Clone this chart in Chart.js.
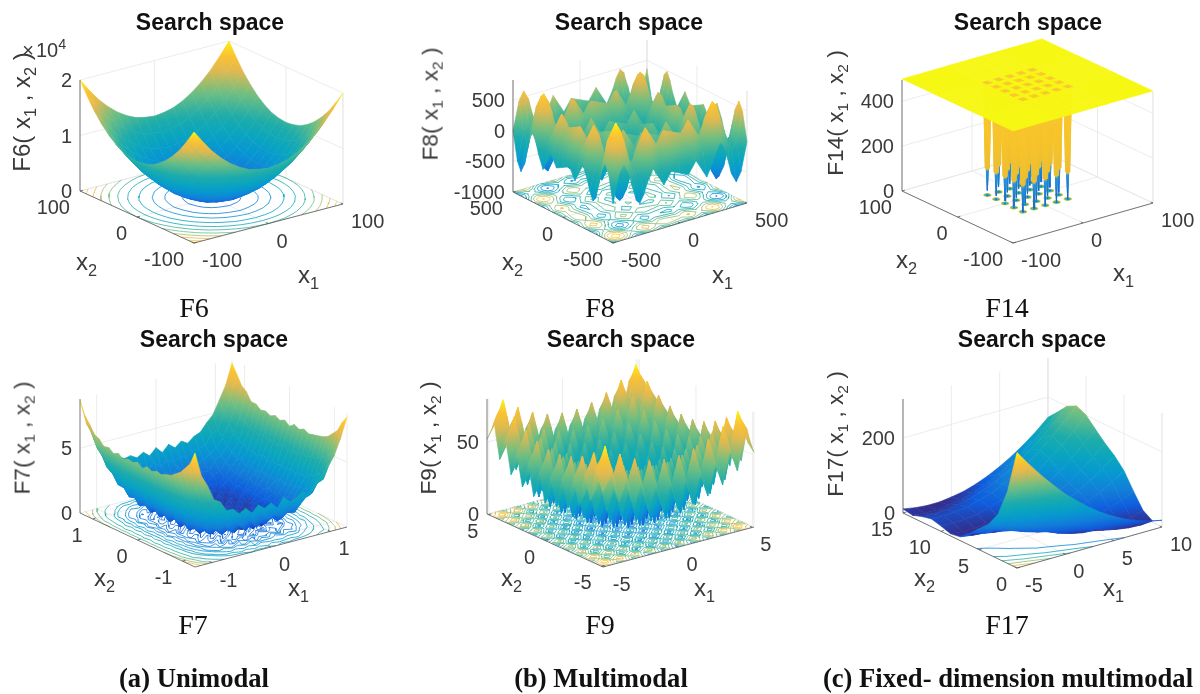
<!DOCTYPE html>
<html>
<head>
<meta charset="utf-8">
<title>Search space</title>
<script src="https://cdn.jsdelivr.net/npm/chart.js@4"></script>
<style>
body { margin: 0; width: 1200px; height: 694px; position: relative; overflow: hidden; background: #fff; font-family: "Liberation Sans", Arial, sans-serif; }
canvas { position: absolute; filter: blur(0.35px); }
.txt { position: absolute; white-space: nowrap; line-height: 1; color: #3a3a3a; }
.txt sub { font-size: 0.68em; line-height: 0; vertical-align: -0.35em; }
.txt sup { font-size: 0.72em; line-height: 0; vertical-align: 0.55em; }
.tick { font-size: 20px; }
.axis { font-size: 24px; }
.zlabel { font-size: 22.7px; }
.title { font-size: 23px; font-weight: bold; color: #111; }
.cap { font-family: "Liberation Serif", "Times New Roman", serif; font-size: 28px; color: #111; }
.group { font-family: "Liberation Serif", "Times New Roman", serif; font-size: 26.6px; font-weight: bold; color: #111; }
</style>
</head>
<body>
<script>
// ============================================
// DATA: grids
// ============================================

// F6 (z in units of 10^4)
const f6X1 = [-100, -87.5, -75, -62.5, -50, -37.5, -25, -12.5, 0, 12.5, 25, 37.5, 50, 62.5, 75, 87.5, 100];
const f6X2 = [-100, -87.5, -75, -62.5, -50, -37.5, -25, -12.5, 0, 12.5, 25, 37.5, 50, 62.5, 75, 87.5, 100];
const f6Z = [
    [2, 1.77, 1.56, 1.39, 1.25, 1.14, 1.06, 1.02, 1, 1.02, 1.06, 1.14, 1.25, 1.39, 1.56, 1.77, 2],
    [1.77, 1.54, 1.33, 1.16, 1.02, .91, .83, .79, .77, .79, .83, .91, 1.02, 1.16, 1.33, 1.54, 1.77],
    [1.56, 1.33, 1.12, .95, .81, .7, .62, .58, .56, .58, .62, .7, .81, .95, 1.12, 1.33, 1.56],
    [1.39, 1.16, .95, .78, .64, .53, .45, .41, .39, .41, .45, .53, .64, .78, .95, 1.16, 1.39],
    [1.25, 1.02, .81, .64, .5, .39, .31, .27, .25, .27, .31, .39, .5, .64, .81, 1.02, 1.25],
    [1.14, .91, .7, .53, .39, .28, .2, .16, .14, .16, .2, .28, .39, .53, .7, .91, 1.14],
    [1.06, .83, .62, .45, .31, .2, .12, .08, .06, .08, .12, .2, .31, .45, .62, .83, 1.06],
    [1.02, .79, .58, .41, .27, .16, .08, .04, .02, .04, .08, .16, .27, .41, .58, .79, 1.02],
    [1, .77, .56, .39, .25, .14, .06, .02, 0, .02, .06, .14, .25, .39, .56, .77, 1],
    [1.02, .79, .58, .41, .27, .16, .08, .04, .02, .04, .08, .16, .27, .41, .58, .79, 1.02],
    [1.06, .83, .62, .45, .31, .2, .12, .08, .06, .08, .12, .2, .31, .45, .62, .83, 1.06],
    [1.14, .91, .7, .53, .39, .28, .2, .16, .14, .16, .2, .28, .39, .53, .7, .91, 1.14],
    [1.25, 1.02, .81, .64, .5, .39, .31, .27, .25, .27, .31, .39, .5, .64, .81, 1.02, 1.25],
    [1.39, 1.16, .95, .78, .64, .53, .45, .41, .39, .41, .45, .53, .64, .78, .95, 1.16, 1.39],
    [1.56, 1.33, 1.12, .95, .81, .7, .62, .58, .56, .58, .62, .7, .81, .95, 1.12, 1.33, 1.56],
    [1.77, 1.54, 1.33, 1.16, 1.02, .91, .83, .79, .77, .79, .83, .91, 1.02, 1.16, 1.33, 1.54, 1.77],
    [2, 1.77, 1.56, 1.39, 1.25, 1.14, 1.06, 1.02, 1, 1.02, 1.06, 1.14, 1.25, 1.39, 1.56, 1.77, 2]
];
const f6X1Ticks = [-100, 0, 100];
const f6X2Ticks = [-100, 0, 100];
const f6ZTicks = [0, 1, 2];
const f6Levels = [.1, .25, .4, .6, .8, 1, 1.2, 1.4, 1.6, 1.8];

// F8
const f8X1 = [-500, -455, -420, -385, -355, -325, -300, -270, -245, -200, -120, -65, 0, 65, 120, 200, 245, 270, 300, 325, 355, 385, 420, 455, 500];
const f8X2 = [-500, -455, -420, -385, -355, -325, -300, -270, -245, -200, -120, -65, 0, 65, 120, 200, 245, 270, 300, 325, 355, 385, 420, 455, 500];
const f8Z = [
    [-362, 98, 238, 87, -181, -419, -481, -359, -191, 19, -301, -117, -181, -245, -61, -381, -171, -3, 119, 57, -181, -449, -600, -460, 0],
    [98, 558, 698, 547, 279, 41, -21, 101, 269, 479, 159, 343, 279, 215, 399, 79, 289, 457, 579, 517, 279, 11, -140, 0, 460],
    [238, 698, 838, 687, 419, 181, 119, 241, 409, 619, 299, 483, 419, 355, 539, 219, 429, 597, 719, 657, 419, 151, 0, 140, 600],
    [87, 547, 687, 536, 268, 30, -32, 90, 258, 468, 148, 332, 268, 204, 388, 68, 278, 446, 568, 506, 268, 0, -151, -11, 449],
    [-181, 279, 419, 268, 0, -238, -300, -178, -10, 200, -120, 64, 0, -64, 120, -200, 10, 178, 300, 238, 0, -268, -419, -279, 181],
    [-419, 41, 181, 30, -238, -476, -538, -416, -248, -38, -358, -174, -238, -302, -118, -438, -228, -60, 62, 0, -238, -506, -657, -517, -57],
    [-481, -21, 119, -32, -300, -538, -600, -478, -310, -100, -420, -236, -300, -364, -180, -500, -290, -122, 0, -62, -300, -568, -719, -579, -119],
    [-359, 101, 241, 90, -178, -416, -478, -356, -188, 22, -298, -114, -178, -242, -58, -378, -168, 0, 122, 60, -178, -446, -597, -457, 3],
    [-191, 269, 409, 258, -10, -248, -310, -188, -20, 190, -130, 54, -10, -74, 110, -210, 0, 168, 290, 228, -10, -278, -429, -289, 171],
    [19, 479, 619, 468, 200, -38, -100, 22, 190, 400, 80, 264, 200, 136, 320, 0, 210, 378, 500, 438, 200, -68, -219, -79, 381],
    [-301, 159, 299, 148, -120, -358, -420, -298, -130, 80, -240, -56, -120, -184, 0, -320, -110, 58, 180, 118, -120, -388, -539, -399, 61],
    [-117, 343, 483, 332, 64, -174, -236, -114, 54, 264, -56, 128, 64, 0, 184, -136, 74, 242, 364, 302, 64, -204, -355, -215, 245],
    [-181, 279, 419, 268, 0, -238, -300, -178, -10, 200, -120, 64, 0, -64, 120, -200, 10, 178, 300, 238, 0, -268, -419, -279, 181],
    [-245, 215, 355, 204, -64, -302, -364, -242, -74, 136, -184, 0, -64, -128, 56, -264, -54, 114, 236, 174, -64, -332, -483, -343, 117],
    [-61, 399, 539, 388, 120, -118, -180, -58, 110, 320, 0, 184, 120, 56, 240, -80, 130, 298, 420, 358, 120, -148, -299, -159, 301],
    [-381, 79, 219, 68, -200, -438, -500, -378, -210, 0, -320, -136, -200, -264, -80, -400, -190, -22, 100, 38, -200, -468, -619, -479, -19],
    [-171, 289, 429, 278, 10, -228, -290, -168, 0, 210, -110, 74, 10, -54, 130, -190, 20, 188, 310, 248, 10, -258, -409, -269, 191],
    [-3, 457, 597, 446, 178, -60, -122, 0, 168, 378, 58, 242, 178, 114, 298, -22, 188, 356, 478, 416, 178, -90, -241, -101, 359],
    [119, 579, 719, 568, 300, 62, 0, 122, 290, 500, 180, 364, 300, 236, 420, 100, 310, 478, 600, 538, 300, 32, -119, 21, 481],
    [57, 517, 657, 506, 238, 0, -62, 60, 228, 438, 118, 302, 238, 174, 358, 38, 248, 416, 538, 476, 238, -30, -181, -41, 419],
    [-181, 279, 419, 268, 0, -238, -300, -178, -10, 200, -120, 64, 0, -64, 120, -200, 10, 178, 300, 238, 0, -268, -419, -279, 181],
    [-449, 11, 151, 0, -268, -506, -568, -446, -278, -68, -388, -204, -268, -332, -148, -468, -258, -90, 32, -30, -268, -536, -687, -547, -87],
    [-600, -140, 0, -151, -419, -657, -719, -597, -429, -219, -539, -355, -419, -483, -299, -619, -409, -241, -119, -181, -419, -687, -838, -698, -238],
    [-460, 0, 140, -11, -279, -517, -579, -457, -289, -79, -399, -215, -279, -343, -159, -479, -269, -101, 21, -41, -279, -547, -698, -558, -98],
    [0, 460, 600, 449, 181, -57, -119, 3, 171, 381, 61, 245, 181, 117, 301, -19, 191, 359, 481, 419, 181, -87, -238, -98, 362]
];
const f8X1Ticks = [-500, 0, 500];
const f8X2Ticks = [-500, 0, 500];
const f8ZTicks = [-1000, -500, 0, 500];
const f8Levels = [-700, -500, -300, -100, 100, 300, 500, 700];

// F14: flat plateau with 25 narrow wells
const f14X1 = [-100, -36.5, -33.6, -32, -30.4, -27.5, -20.5, -17.6, -16, -14.4, -11.5, -4.5, -1.6, 0, 1.6, 4.5, 11.5, 14.4, 16, 17.6, 20.5, 27.5, 30.4, 32, 33.6, 36.5, 100];
const f14X2 = [-100, -36.5, -33.6, -32, -30.4, -27.5, -20.5, -17.6, -16, -14.4, -11.5, -4.5, -1.6, 0, 1.6, 4.5, 11.5, 14.4, 16, 17.6, 20.5, 27.5, 30.4, 32, 33.6, 36.5, 100];
const f14Flat = [500, 500, 500, 500, 500, 500, 500, 500, 500, 500, 500, 500, 500, 500, 500, 500, 500, 500, 500, 500, 500, 500, 500, 500, 500, 500, 500];
const f14Ring = [500, 500, 120, 120, 120, 500, 500, 120, 120, 120, 500, 500, 120, 120, 120, 500, 500, 120, 120, 120, 500, 500, 120, 120, 120, 500, 500];
const f14Z = [
    f14Flat,
    f14Flat, f14Ring, [500, 500, 120, 1, 120, 500, 500, 120, 2, 120, 500, 500, 120, 3, 120, 500, 500, 120, 4, 120, 500, 500, 120, 5, 120, 500, 500], f14Ring, f14Flat,
    f14Flat, f14Ring, [500, 500, 120, 6, 120, 500, 500, 120, 7, 120, 500, 500, 120, 8, 120, 500, 500, 120, 9, 120, 500, 500, 120, 10, 120, 500, 500], f14Ring, f14Flat,
    f14Flat, f14Ring, [500, 500, 120, 11, 120, 500, 500, 120, 12, 120, 500, 500, 120, 13, 120, 500, 500, 120, 14, 120, 500, 500, 120, 15, 120, 500, 500], f14Ring, f14Flat,
    f14Flat, f14Ring, [500, 500, 120, 16, 120, 500, 500, 120, 17, 120, 500, 500, 120, 18, 120, 500, 500, 120, 19, 120, 500, 500, 120, 20, 120, 500, 500], f14Ring, f14Flat,
    f14Flat, f14Ring, [500, 500, 120, 21, 120, 500, 500, 120, 22, 120, 500, 500, 120, 23, 120, 500, 500, 120, 24, 120, 500, 500, 120, 25, 120, 500, 500], f14Ring, f14Flat,
    f14Flat
];
const f14X1Ticks = [-100, 0, 100];
const f14X2Ticks = [-100, 0, 100];
const f14ZTicks = [0, 200, 400];
const f14Levels = [30, 60, 100, 200, 300, 400, 470];

// F7: noisy bowl
const f7X1 = [-1.28, -1.173, -1.067, -.96, -.853, -.747, -.64, -.533, -.427, -.32, -.213, -.107, 0, .107, .213, .32, .427, .533, .64, .747, .853, .96, 1.067, 1.173, 1.28];
const f7X2 = [-1.28, -1.173, -1.067, -.96, -.853, -.747, -.64, -.533, -.427, -.32, -.213, -.107, 0, .107, .213, .32, .427, .533, .64, .747, .853, .96, 1.067, 1.173, 1.28];
const f7Z = [
    [8.8, 6.9, 6.0, 4.8, 4.5, 3.7, 3.7, 3.2, 3.5, 3.0, 3.5, 3.1, 3.4, 2.9, 3.6, 3.1, 3.3, 3.6, 3.2, 3.9, 4.3, 5.0, 5.8, 7.0, 8.5],
    [7.8, 6.4, 4.9, 4.3, 3.4, 3.2, 2.6, 2.8, 2.3, 2.7, 2.2, 2.6, 2.1, 2.7, 2.3, 2.5, 2.6, 2.4, 2.9, 3.0, 3.7, 3.9, 5.1, 6.1, 7.9],
    [7.3, 5.5, 4.6, 3.4, 3.1, 2.3, 2.2, 1.8, 2.1, 1.6, 2.0, 1.5, 2.1, 1.7, 1.9, 1.6, 2.0, 2.0, 2.1, 2.6, 2.8, 3.6, 4.3, 5.7, 7.1],
    [6.8, 5.2, 3.8, 3.2, 2.3, 2.1, 1.5, 1.7, 1.2, 1.6, 1.1, 1.7, 1.0, 1.5, 1.3, 1.7, 1.2, 1.6, 1.4, 2.2, 2.5, 3.0, 4.0, 5.0, 6.7],
    [6.5, 4.7, 3.7, 2.6, 2.2, 1.4, 1.5, 1.0, 1.2, .8, 1.3, .7, 1.1, 1.0, .9, 1.3, .8, 1.3, 1.2, 1.6, 2.1, 2.8, 3.5, 4.9, 6.3],
    [6.2, 4.7, 3.3, 2.6, 1.8, 1.5, .9, 1.1, .6, 1.1, .5, .9, .8, .4, 1.0, .6, 1.0, .7, 1.2, 1.2, 1.9, 2.4, 3.4, 4.5, 6.1],
    [6.1, 4.4, 3.4, 2.2, 1.8, 1.1, 1.0, .6, .9, .4, .8, .5, .3, .9, .6, .2, .8, .7, .6, 1.3, 1.6, 2.5, 3.1, 4.6, 6.0],
    [5.9, 4.5, 3.1, 2.4, 1.5, 1.2, .6, .8, .3, .8, .2, .7, .5, .3, .9, .4, .6, .3, .9, 1.0, 1.7, 2.2, 3.2, 4.3, 5.9],
    [6.0, 4.2, 3.2, 2.1, 1.7, .9, .9, .4, .7, .2, .6, .3, .8, .2, .5, .7, .2, .8, .5, 1.2, 1.4, 2.3, 2.9, 4.5, 5.8],
    [5.8, 4.4, 2.9, 2.3, 1.4, 1.2, .5, .8, .3, .6, .1, .7, .3, .6, .2, .5, .7, .3, .8, .9, 1.6, 2.1, 3.2, 4.2, 6.0],
    [6.0, 4.1, 3.2, 2.0, 1.7, .9, .8, .3, .6, .2, .7, .2, .5, .3, .7, .2, .4, .7, .4, 1.2, 1.3, 2.4, 2.9, 4.4, 5.8],
    [5.7, 4.5, 2.9, 2.3, 1.3, 1.2, .4, .8, .2, .6, .3, .7, .1, .6, .3, .6, .2, .5, .8, .8, 1.7, 2.0, 3.2, 4.1, 6.0],
    [6.0, 4.1, 3.2, 2.1, 1.6, .8, .9, .3, .7, .1, .6, .2, .5, .2, .7, .3, .6, .3, .6, 1.1, 1.3, 2.3, 3.0, 4.5, 5.7],
    [5.8, 4.4, 2.8, 2.3, 1.4, 1.1, .5, .8, .3, .7, .2, .6, .3, .6, .1, .6, .3, .7, .4, .9, 1.6, 2.1, 3.1, 4.1, 6.0],
    [5.9, 4.2, 3.2, 2.0, 1.7, .8, .9, .3, .6, .2, .7, .3, .7, .2, .5, .2, .7, .3, .8, 1.2, 1.3, 2.4, 2.9, 4.4, 5.8],
    [5.7, 4.5, 2.9, 2.4, 1.3, 1.2, .5, .7, .3, .7, .2, .6, .2, .7, .3, .6, .2, .6, .5, .8, 1.7, 2.0, 3.3, 4.1, 6.0],
    [6.0, 4.1, 3.2, 2.0, 1.7, .9, .8, .3, .8, .2, .6, .3, .7, .2, .6, .3, .7, .3, .8, 1.1, 1.3, 2.4, 2.9, 4.5, 5.8],
    [5.8, 4.5, 2.9, 2.4, 1.3, 1.2, .5, .9, .3, .7, .2, .8, .3, .7, .3, .7, .3, .7, .5, .9, 1.7, 2.1, 3.2, 4.2, 6.0],
    [6.1, 4.3, 3.3, 2.1, 1.8, 1.0, 1.0, .5, .8, .3, .8, .4, .9, .3, .8, .4, .8, .5, .9, 1.3, 1.5, 2.5, 3.1, 4.5, 5.9],
    [6.0, 4.7, 3.2, 2.6, 1.6, 1.4, .8, 1.1, .5, 1.0, .6, 1.0, .4, 1.0, .5, .9, .5, 1.0, .7, 1.2, 1.8, 2.3, 3.4, 4.4, 6.2],
    [6.4, 4.6, 3.6, 2.5, 2.1, 1.3, 1.3, .9, 1.2, .7, 1.2, .7, 1.1, .8, 1.2, .7, 1.2, .8, 1.3, 1.5, 2.1, 2.7, 3.4, 4.8, 6.2],
    [6.6, 5.1, 3.8, 3.1, 2.2, 2.0, 1.4, 1.6, 1.1, 1.5, 1.0, 1.6, 1.1, 1.5, 1.1, 1.6, 1.2, 1.5, 1.4, 2.1, 2.4, 3.0, 3.9, 5.0, 6.8],
    [7.2, 5.5, 4.5, 3.4, 3.0, 2.3, 2.1, 1.8, 2.0, 1.5, 2.0, 1.6, 2.0, 1.6, 2.1, 1.6, 1.9, 1.9, 2.1, 2.5, 2.8, 3.5, 4.4, 5.6, 7.1],
    [7.7, 6.3, 4.9, 4.2, 3.4, 3.1, 2.6, 2.7, 2.3, 2.6, 2.2, 2.7, 2.2, 2.6, 2.3, 2.6, 2.4, 2.7, 2.8, 3.0, 3.7, 3.9, 5.0, 6.2, 7.8],
    [8.7, 6.8, 6.0, 4.8, 4.4, 3.8, 3.6, 3.3, 3.4, 3.1, 3.4, 3.0, 3.5, 3.0, 3.5, 3.1, 3.5, 3.2, 3.6, 3.8, 4.4, 4.9, 5.9, 6.9, 8.5]
];
const f7X1Ticks = [-1, 0, 1];
const f7X2Ticks = [-1, 0, 1];
const f7ZTicks = [0, 5];
const f7Levels = [.25, .45, .65, .85, 1.05, 1.3, 1.6, 2, 2.5, 3, 4, 5, 6, 7];

// F9: one quarter of the surface, the rest repeats it across both axes
const f9X1 = [-5.12, -4.75, -4.5, -4.25, -4, -3.75, -3.5, -3.25, -3, -2.75, -2.5, -2.25, -2, -1.75, -1.5, -1.25, -1, -.75, -.5, -.25, 0, .25, .5, .75, 1, 1.25, 1.5, 1.75, 2, 2.25, 2.5, 2.75, 3, 3.25, 3.5, 3.75, 4, 4.25, 4.5, 4.75, 5.12];
const f9X2 = f9X1;
const f9Quarter = [
    [52, 59, 66, 54, 42, 50, 58, 47, 35, 44, 52, 41, 30, 39, 48, 38, 27, 37, 46, 36, 26],
    [59, 66, 73, 61, 49, 57, 65, 54, 42, 51, 59, 48, 37, 46, 55, 45, 34, 44, 53, 43, 33],
    [66, 73, 80, 68, 56, 64, 72, 61, 49, 58, 66, 55, 44, 53, 62, 52, 41, 51, 60, 50, 40],
    [54, 61, 68, 56, 44, 52, 60, 49, 37, 46, 54, 43, 32, 41, 50, 40, 29, 39, 48, 38, 28],
    [42, 49, 56, 44, 32, 40, 48, 37, 25, 34, 42, 31, 20, 29, 38, 28, 17, 27, 36, 26, 16],
    [50, 57, 64, 52, 40, 48, 56, 45, 33, 42, 50, 39, 28, 37, 46, 36, 25, 35, 44, 34, 24],
    [58, 65, 72, 60, 48, 56, 64, 53, 41, 50, 58, 47, 36, 45, 54, 44, 33, 43, 52, 42, 32],
    [47, 54, 61, 49, 37, 45, 53, 42, 30, 39, 47, 36, 25, 34, 43, 33, 22, 32, 41, 31, 21],
    [35, 42, 49, 37, 25, 33, 41, 30, 18, 27, 35, 24, 13, 22, 31, 21, 10, 20, 29, 19, 9],
    [44, 51, 58, 46, 34, 42, 50, 39, 27, 36, 44, 33, 22, 31, 40, 30, 19, 29, 38, 28, 18],
    [52, 59, 66, 54, 42, 50, 58, 47, 35, 44, 52, 41, 30, 39, 48, 38, 27, 37, 46, 36, 26],
    [41, 48, 55, 43, 31, 39, 47, 36, 24, 33, 41, 30, 19, 28, 37, 27, 16, 26, 35, 25, 15],
    [30, 37, 44, 32, 20, 28, 36, 25, 13, 22, 30, 19, 8, 17, 26, 16, 5, 15, 24, 14, 4],
    [39, 46, 53, 41, 29, 37, 45, 34, 22, 31, 39, 28, 17, 26, 35, 25, 14, 24, 33, 23, 13],
    [48, 55, 62, 50, 38, 46, 54, 43, 31, 40, 48, 37, 26, 35, 44, 34, 23, 33, 42, 32, 22],
    [38, 45, 52, 40, 28, 36, 44, 33, 21, 30, 38, 27, 16, 25, 34, 24, 13, 23, 32, 22, 12],
    [27, 34, 41, 29, 17, 25, 33, 22, 10, 19, 27, 16, 5, 14, 23, 13, 2, 12, 21, 11, 1],
    [37, 44, 51, 39, 27, 35, 43, 32, 20, 29, 37, 26, 15, 24, 33, 23, 12, 22, 31, 21, 11],
    [46, 53, 60, 48, 36, 44, 52, 41, 29, 38, 46, 35, 24, 33, 42, 32, 21, 31, 40, 30, 20],
    [36, 43, 50, 38, 26, 34, 42, 31, 19, 28, 36, 25, 14, 23, 32, 22, 11, 21, 30, 20, 10],
    [26, 33, 40, 28, 16, 24, 32, 21, 9, 18, 26, 15, 4, 13, 22, 12, 1, 11, 20, 10, 0]
];
const f9X1Ticks = [-5, 0, 5];
const f9X2Ticks = [-5, 0, 5];
const f9ZTicks = [0, 50];
const f9Levels = [8, 16, 24, 32, 40, 48, 56, 64, 72];

// F17
const f17X1 = [-5, -3.75, -2.5, -1.25, 0, 1.25, 2.5, 3.75, 5, 6.25, 7.5, 8.75, 10];
const f17X2 = [0, 1.25, 2.5, 3.75, 5, 6.25, 7.5, 8.75, 10, 11.25, 12.5, 13.75, 15];
const f17Z = [
    [308, 267, 229, 194, 161, 133, 107, 84, 65, 48, 35, 25, 18],
    [192, 159, 129, 103, 79, 59, 42, 27, 16, 9, 4, 2, 4],
    [119, 93, 71, 52, 36, 23, 13, 6, 3, 3, 5, 11, 20],
    [80, 61, 45, 33, 23, 17, 14, 13, 16, 22, 32, 44, 59],
    [56, 42, 32, 25, 21, 20, 22, 27, 36, 47, 62, 80, 101],
    [31, 22, 16, 13, 14, 17, 24, 34, 47, 63, 82, 104, 129],
    [10, 5, 2, 3, 7, 14, 24, 37, 54, 73, 96, 122, 150],
    [6, 3, 3, 6, 12, 21, 34, 50, 69, 90, 116, 144, 175],
    [14, 13, 14, 19, 27, 38, 52, 69, 89, 112, 139, 168, 201],
    [21, 20, 22, 27, 35, 46, 61, 78, 99, 123, 150, 180, 213],
    [15, 13, 15, 19, 27, 38, 51, 68, 88, 112, 138, 168, 200],
    [6, 3, 3, 6, 12, 21, 33, 49, 67, 89, 113, 141, 172],
    [11, 5, 2, 2, 6, 12, 22, 35, 51, 70, 92, 117, 146]
];
const f17X1Ticks = [-5, 0, 5, 10];
const f17X2Ticks = [0, 5, 10, 15];
const f17ZTicks = [0, 200];
const f17Levels = [50, 100, 150, 200, 250, 300];

// Colour maps: [position, r, g, b]
const parulaStops = [
    [0, 53, 42, 135], [.1, 15, 92, 221], [.2, 18, 125, 216], [.3, 7, 150, 210], [.4, 10, 165, 190],
    [.5, 30, 172, 170], [.65, 110, 190, 130], [.8, 225, 185, 80], [.9, 250, 195, 50], [.97, 250, 225, 30], [1, 249, 251, 14]
];
const wellStops = [
    [0, 20, 100, 205], [.23, 40, 150, 215], [.24, 235, 190, 50], [.5, 246, 195, 42], [.96, 248, 200, 45], [1, 247, 247, 20]
];

function mirrorBoth(rows) {
    const wide = rows.map(r => r.concat(r.slice(0, -1).reverse()));
    return wide.concat(wide.slice(0, -1).reverse());
}

// ============================================
// PANELS
// ============================================
const panels = [
    { name: 'F6', left: 0, top: 0, height: 330, x1: f6X1, x2: f6X2, z: f6Z, x1Ticks: f6X1Ticks, x2Ticks: f6X2Ticks, zTicks: f6ZTicks, levels: f6Levels,
      L: [80, 191], F: [194, 243], R: [343, 204], zTopY: 80, zMin: 0, zMax: 2, cMin: 0, cMax: 2, cStart: .08, cCap: 1, stops: parulaStops,
      titleAt: [210, 22], capAt: [194, 308], x1At: [298, 275], x2At: [76, 262], zAt: [22, 112], zSize: 24 },
    { name: 'F8', left: 400, top: 0, height: 330, x1: f8X1, x2: f8X2, z: f8Z, x1Ticks: f8X1Ticks, x2Ticks: f8X2Ticks, zTicks: f8ZTicks, levels: f8Levels,
      L: [513, 192], F: [613, 243], R: [747, 203], zTopY: 80, zMin: -1000, zMax: 830, cMin: -838, cMax: 838, cStart: .1, cCap: 1, stops: parulaStops,
      titleAt: [629, 22], capAt: [600, 308], x1At: [712, 275], x2At: [502, 262], zAt: [430, 104] },
    { name: 'F14', left: 800, top: 0, height: 330, x1: f14X1, x2: f14X2, z: f14Z, x1Ticks: f14X1Ticks, x2Ticks: f14X2Ticks, zTicks: f14ZTicks, levels: f14Levels,
      L: [902, 191], F: [1013, 243], R: [1153, 203], zTopY: 80, zMin: 0, zMax: 495, cMin: 0, cMax: 500, cStart: 0, cCap: .96, stops: wellStops,
      titleAt: [1028, 22], capAt: [1007, 308], x1At: [1113, 273], x2At: [896, 260], zAt: [835, 113] },
    { name: 'F7', left: 0, top: 325, height: 369, x1: f7X1, x2: f7X2, z: f7Z, x1Ticks: f7X1Ticks, x2Ticks: f7X2Ticks, zTicks: f7ZTicks, levels: f7Levels,
      L: [80, 513], F: [195, 567], R: [347, 527], zTopY: 399, zMin: 0, zMax: 8.8, cMin: 0, cMax: 8.8, cStart: 0, cCap: 1, stops: parulaStops,
      titleAt: [214, 339], capAt: [193, 625], x1At: [288, 588], x2At: [94, 578], zAt: [22, 438] },
    { name: 'F9', left: 400, top: 325, height: 369, x1: f9X1, x2: f9X2, z: mirrorBoth(f9Quarter), x1Ticks: f9X1Ticks, x2Ticks: f9X2Ticks, zTicks: f9ZTicks, levels: f9Levels,
      L: [487, 514], F: [603, 567], R: [754, 527], zTopY: 399, zMin: 0, zMax: 80, cMin: 0, cMax: 80, cStart: .08, cCap: 1, stops: parulaStops,
      titleAt: [621, 339], capAt: [600, 625], x1At: [694, 588], x2At: [501, 578], zAt: [428, 438] },
    { name: 'F17', left: 800, top: 325, height: 369, x1: f17X1, x2: f17X2, z: f17Z, x1Ticks: f17X1Ticks, x2Ticks: f17X2Ticks, zTicks: f17ZTicks, levels: f17Levels,
      L: [903, 513], F: [1017, 568], R: [1162, 527], zTopY: 399, zMin: 0, zMax: 304, cMin: 0, cMax: 308, cStart: 0, cCap: 1, stops: parulaStops,
      titleAt: [1032, 339], capAt: [1007, 625], x1At: [1103, 588], x2At: [914, 578], zAt: [835, 434] }
];

const groupLabels = [
    { text: '(a) Unimodal', at: [194, 678] },
    { text: '(b) Multimodal', at: [601, 678] },
    { text: '(c) Fixed- dimension multimodal', at: [1008, 678] }
];

// ============================================
// HELPERS
// ============================================

function colorAt(stops, t) {
    t = Math.max(0, Math.min(1, t));
    let k = 1;
    while (k < stops.length - 1 && stops[k][0] < t) k++;
    const a = stops[k - 1];
    const b = stops[k];
    const f = (t - a[0]) / (b[0] - a[0]);
    const mix = n => Math.round(a[n] + (b[n] - a[n]) * f);
    return `rgb(${mix(1)},${mix(2)},${mix(3)})`;
}

// Position of (x1, x2, z) in page pixels; scales below use page pixels too
function project(p, x1, x2, z) {
    const n1 = p.x1.length - 1;
    const n2 = p.x2.length - 1;
    const u = (x1 - p.x1[0]) / (p.x1[n1] - p.x1[0]);
    const v = (x2 - p.x2[0]) / (p.x2[n2] - p.x2[0]);
    const h = (z - p.zMin) / (p.zMax - p.zMin) * (p.L[1] - p.zTopY);
    return {
        x: p.F[0] + u * (p.R[0] - p.F[0]) + v * (p.L[0] - p.F[0]),
        y: p.F[1] + u * (p.R[1] - p.F[1]) + v * (p.L[1] - p.F[1]) - h
    };
}

function colorT(p, z) {
    return p.cStart + (1 - p.cStart) * (z - p.cMin) / (p.cMax - p.cMin);
}

// Gradient across one facet: along the plane through its corners if the facet
// has a usable area on screen, else from its lowest vertex to its highest
function facetFill(chart, p, pts, zs) {
    let lo = 0;
    let hi = 0;
    zs.forEach((z, i) => {
        if (z < zs[lo]) lo = i;
        if (z > zs[hi]) hi = i;
    });
    const tLo = colorT(p, zs[lo]);
    const tHi = colorT(p, zs[hi]);
    const sx = chart.scales.x;
    const sy = chart.scales.y;
    if (!sx || !sy || !sx.width) return colorAt(p.stops, tLo);
    if (tHi - tLo < 0.004) return colorAt(p.stops, (tLo + tHi) / 2);
    const px = pts.map(q => sx.getPixelForValue(q.x));
    const py = pts.map(q => sy.getPixelForValue(q.y));
    const mx = (px[0] + px[1] + px[2] + px[3]) / 4;
    const my = (py[0] + py[1] + py[2] + py[3]) / 4;
    const mz = (zs[0] + zs[1] + zs[2] + zs[3]) / 4;
    let xx = 0, xy = 0, yy = 0, xz = 0, yz = 0;
    for (let i = 0; i < 4; i++) {
        const dx = px[i] - mx;
        const dy = py[i] - my;
        const dz = zs[i] - mz;
        xx += dx * dx; xy += dx * dy; yy += dy * dy; xz += dx * dz; yz += dy * dz;
    }
    const det = xx * yy - xy * xy;
    let x0 = px[lo], y0 = py[lo], x1 = px[hi], y1 = py[hi];
    if (det > 0.02 * (xx + yy) * (xx + yy)) {
        const a = (yy * xz - xy * yz) / det;
        const b = (xx * yz - xy * xz) / det;
        const n = a * a + b * b;
        if (n > 0) {
            x0 = mx + a * (zs[lo] - mz) / n;
            y0 = my + b * (zs[lo] - mz) / n;
            x1 = mx + a * (zs[hi] - mz) / n;
            y1 = my + b * (zs[hi] - mz) / n;
        }
    }
    if (Math.hypot(x1 - x0, y1 - y0) < 0.5) return colorAt(p.stops, (tLo + tHi) / 2);
    const g = chart.ctx.createLinearGradient(x0, y0, x1, y1);
    for (let s = 0; s <= 10; s++) {
        g.addColorStop(s / 10, colorAt(p.stops, Math.min(p.cCap, tLo + (tHi - tLo) * s / 10)));
    }
    return g;
}

function lineDataset(data, color, width) {
    return { data, showLine: true, fill: false, borderColor: color, borderWidth: width, backgroundColor: color };
}

// Front corner (first indices) comes first: Chart.js paints the first dataset last
function surfaceDatasets(p) {
    const out = [];
    const nx = p.x1.length - 1;
    const ny = p.x2.length - 1;
    for (let sum = 0; sum <= nx + ny - 2; sum++) {
        for (let i = 0; i < nx; i++) {
            const j = sum - i;
            if (j < 0 || j >= ny) continue;
            const corners = [[i, j], [i + 1, j], [i + 1, j + 1], [i, j + 1]];
            const zs = corners.map(c => p.z[c[1]][c[0]]);
            const pts = corners.map((c, n) => project(p, p.x1[c[0]], p.x2[c[1]], zs[n]));
            const paint = ctx => facetFill(ctx.chart, p, pts, zs);
            out.push({
                data: pts.concat([pts[0]]),
                showLine: true,
                fill: 'shape',
                backgroundColor: paint,
                borderColor: paint,
                borderWidth: 0.6
            });
        }
    }
    return out;
}

// Marching squares over the same grid, laid on the floor of the box
function contourDatasets(p) {
    return p.levels.map(level => {
        const data = [];
        for (let j = 0; j < p.x2.length - 1; j++) {
            for (let i = 0; i < p.x1.length - 1; i++) {
                const c = [[i, j], [i + 1, j], [i + 1, j + 1], [i, j + 1]];
                const cross = [];
                for (let e = 0; e < 4; e++) {
                    const a = c[e];
                    const b = c[(e + 1) % 4];
                    const za = p.z[a[1]][a[0]];
                    const zb = p.z[b[1]][b[0]];
                    if ((za < level) !== (zb < level)) {
                        const f = (level - za) / (zb - za);
                        cross.push(project(p,
                            p.x1[a[0]] + f * (p.x1[b[0]] - p.x1[a[0]]),
                            p.x2[a[1]] + f * (p.x2[b[1]] - p.x2[a[1]]),
                            p.zMin));
                    }
                }
                for (let k = 0; k + 1 < cross.length; k += 2) {
                    data.push(cross[k], cross[k + 1], { x: NaN, y: NaN });
                }
            }
        }
        return lineDataset(data, colorAt(parulaStops, .1 + .9 * (level - p.cMin) / (p.cMax - p.cMin)), 0.8);
    });
}

function gridDatasets(p) {
    const out = [];
    const a1 = p.x1[0];
    const b1 = p.x1[p.x1.length - 1];
    const a2 = p.x2[0];
    const b2 = p.x2[p.x2.length - 1];
    const low = p.zMin;
    const high = p.zMax;
    const gray = '#e4e4e4';
    p.x1Ticks.forEach(t => {
        out.push(lineDataset([project(p, t, a2, low), project(p, t, b2, low), project(p, t, b2, high)], gray, 0.7));
    });
    p.x2Ticks.forEach(t => {
        out.push(lineDataset([project(p, a1, t, low), project(p, b1, t, low), project(p, b1, t, high)], gray, 0.7));
    });
    p.zTicks.forEach(t => {
        out.push(lineDataset([project(p, a1, b2, t), project(p, b1, b2, t), project(p, b1, a2, t)], gray, 0.7));
    });
    out.push(lineDataset([project(p, b1, b2, low), project(p, b1, b2, high)], gray, 0.7));
    out.push(lineDataset([project(p, b1, a2, low), project(p, b1, a2, high)], gray, 0.7));
    return out;
}

function axisDatasets(p) {
    const a1 = p.x1[0];
    const b1 = p.x1[p.x1.length - 1];
    const a2 = p.x2[0];
    const b2 = p.x2[p.x2.length - 1];
    const dark = '#555555';
    const out = [
        lineDataset([project(p, a1, b2, p.zMin), project(p, a1, a2, p.zMin), project(p, b1, a2, p.zMin)], dark, 0.8),
        lineDataset([project(p, a1, b2, p.zMin), project(p, a1, b2, p.zMax)], dark, 0.8)
    ];
    p.x1Ticks.forEach(t => {
        out.push(lineDataset([project(p, t, a2, p.zMin), project(p, t, a2 + (b2 - a2) * .02, p.zMin)], dark, 0.8));
    });
    p.x2Ticks.forEach(t => {
        out.push(lineDataset([project(p, a1, t, p.zMin), project(p, a1 + (b1 - a1) * .02, t, p.zMin)], dark, 0.8));
    });
    return out;
}

function addText(html, x, y, cls, transform) {
    const el = document.createElement('div');
    el.className = 'txt ' + cls;
    el.innerHTML = html;
    el.style.left = x + 'px';
    el.style.top = y + 'px';
    el.style.transform = transform;
    document.body.appendChild(el);
    return el;
}

function drawPanel(p) {
    const canvas = document.createElement('canvas');
    canvas.width = 400;
    canvas.height = p.height;
    canvas.style.left = p.left + 'px';
    canvas.style.top = p.top + 'px';
    document.body.appendChild(canvas);

    const chart = new Chart(canvas, {
        type: 'scatter',
        data: {
            datasets: [].concat(axisDatasets(p), surfaceDatasets(p), contourDatasets(p), gridDatasets(p))
        },
        options: {
            responsive: false,
            animation: false,
            events: [],
            layout: { padding: 0 },
            elements: { point: { radius: 0 } },
            scales: {
                x: { type: 'linear', display: false, min: p.left, max: p.left + 400 },
                y: { type: 'linear', display: false, reverse: true, min: p.top, max: p.top + p.height }
            },
            plugins: { legend: { display: false }, tooltip: { enabled: false } }
        }
    });

    // Text sits in the page, placed through the chart's scales
    const px = pos => [
        p.left + chart.scales.x.getPixelForValue(pos.x),
        p.top + chart.scales.y.getPixelForValue(pos.y)
    ];
    const a1 = p.x1[0];
    const a2 = p.x2[0];
    p.x1Ticks.forEach(t => {
        const at = px(project(p, t, a2, p.zMin));
        addText(String(t), at[0] + 8, at[1] + 17, 'tick', 'translateY(-50%)');
    });
    p.x2Ticks.forEach(t => {
        const at = px(project(p, a1, t, p.zMin));
        addText(String(t), at[0] - 10, at[1] + 16, 'tick', 'translate(-100%,-50%)');
    });
    p.zTicks.forEach(t => {
        const at = px(project(p, a1, p.x2[p.x2.length - 1], t));
        addText(String(t), at[0] - 8, at[1], 'tick', 'translate(-100%,-50%)');
    });
    addText('x<sub>1</sub>', p.x1At[0], p.x1At[1], 'axis', 'translateY(-50%)');
    addText('x<sub>2</sub>', p.x2At[0], p.x2At[1], 'axis', 'translateY(-50%)');
    const zLabel = addText(p.name + '( x<sub>1</sub> , x<sub>2</sub> )', p.zAt[0], p.zAt[1], 'zlabel', 'translate(-50%,-50%) rotate(-90deg)');
    if (p.zSize) zLabel.style.fontSize = p.zSize + 'px';
    addText('Search space', p.titleAt[0], p.titleAt[1], 'title', 'translate(-50%,-50%)');
    addText(p.name, p.capAt[0], p.capAt[1], 'cap', 'translate(-50%,-50%)');
}

panels.forEach(drawPanel);
addText('&times;', 28, 50, 'tick', 'translate(-50%,-50%)');
addText('10<sup>4</sup>', 36, 50, 'tick', 'translateY(-50%)');
groupLabels.forEach(g => addText(g.text, g.at[0], g.at[1], 'group', 'translate(-50%,-50%)'));
</script>
</body>
</html>
